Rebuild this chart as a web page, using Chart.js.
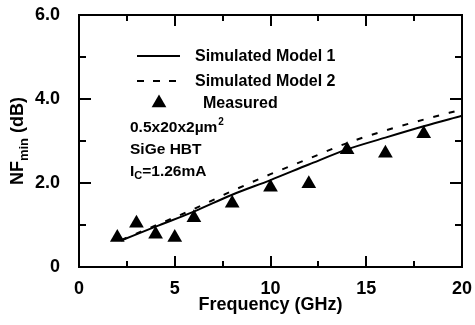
<!DOCTYPE html>
<html lang="en">
<head>
    <meta charset="UTF-8">
    <title>NFmin vs Frequency</title>
    <script src="https://cdn.jsdelivr.net/npm/chart.js@4.4.1/dist/chart.umd.min.js"></script>
    <style>
        html, body { margin: 0; padding: 0; background: #fff; }
    </style>
</head>
<body>
    <canvas id="myChart" width="475" height="325"></canvas>

    <script>
        // Measured points (GHz, dB)
        const measuredFreq = [2, 3, 4, 5, 6, 8, 10, 12, 14, 16, 18];
        const measuredNF = [0.70, 1.04, 0.78, 0.70, 1.17, 1.52, 1.90, 1.98, 2.79, 2.71, 3.17];

        // Simulated curves
        const simFreq = [2.2, 4, 6, 8, 10, 12, 14, 16, 18, 20];
        const model1NF = [0.63, 0.96, 1.32, 1.72, 2.07, 2.44, 2.80, 3.08, 3.35, 3.60];
        const model2NF = [0.64, 0.99, 1.38, 1.81, 2.21, 2.58, 2.95, 3.25, 3.51, 3.75];

        const xTicks = [0, 5, 10, 15, 20];
        const yTicks = ['0', '2.0', '4.0', '6.0'];

        const FONT = '"Liberation Sans", Arial, Helvetica, sans-serif';

        function pts(xs, ys) {
            return xs.map((v, i) => ({ x: v, y: ys[i] }));
        }

        function noPad(s) {
            s.paddingTop = 0; s.paddingBottom = 0; s.paddingLeft = 0; s.paddingRight = 0;
        }

        // inward ticks on all four sides
        const frame = {
            id: 'frame',
            afterDraw(chart) {
                const ctx = chart.ctx;
                const sx = chart.scales.x, sy = chart.scales.y;
                const L = Math.round(sx.left), R = Math.round(sx.right);
                const T = Math.round(sy.top), B = Math.round(sy.bottom);
                ctx.save();
                ctx.fillStyle = '#000';
                ctx.fillRect(L - 1, T - 1, R - L + 2, 2);
                ctx.fillRect(L - 1, B - 1, R - L + 2, 2);
                ctx.fillRect(L - 1, T - 1, 2, B - T + 2);
                ctx.fillRect(R - 1, T - 1, 2, B - T + 2);
                for (let v = 0; v <= 20; v += 2.5) {
                    const px = Math.round(sx.getPixelForValue(v));
                    const len = v % 5 === 0 ? 11 : 6;
                    ctx.fillRect(px - 1, B - len, 2, len);
                    ctx.fillRect(px - 1, T, 2, len);
                }
                for (let v = 0; v <= 6; v++) {
                    const py = Math.round(sy.getPixelForValue(v));
                    const len = v % 2 === 0 ? 12 : 7;
                    ctx.fillRect(L, py - 1, len, 2);
                    ctx.fillRect(R - len, py - 1, len, 2);
                }
                ctx.restore();
            }
        };

        // legend, notes and axis titles
        const decor = {
            id: 'decor',
            afterDraw(chart) {
                const ctx = chart.ctx;
                const a = chart.chartArea;
                ctx.save();
                ctx.fillStyle = '#000';

                // legend samples
                ctx.fillRect(137, 55, 43, 2);
                [137, 153, 169].forEach(d => ctx.fillRect(d, 80, 7, 2));
                const tr = 8.5;
                ctx.beginPath();
                ctx.moveTo(159, 103 - tr);
                ctx.lineTo(159 + tr * 0.866, 103 + tr / 2);
                ctx.lineTo(159 - tr * 0.866, 103 + tr / 2);
                ctx.closePath();
                ctx.fill();

                ctx.textBaseline = 'middle';
                ctx.textAlign = 'left';
                ctx.font = 'bold 16px ' + FONT;
                ctx.fillText('Simulated Model 1', 195, 57);
                ctx.fillText('Simulated Model 2', 195, 82);
                ctx.fillText('Measured', 203, 104);

                // device notes
                ctx.font = 'bold 15.5px ' + FONT;
                let w = ctx.measureText('0.5x20x2\u00b5m').width;
                ctx.fillText('0.5x20x2\u00b5m', 130, 128);
                ctx.font = 'bold 10px ' + FONT;
                ctx.fillText('2', 130 + w + 1, 122);
                ctx.font = 'bold 15.5px ' + FONT;
                ctx.fillText('SiGe HBT', 130, 150);
                ctx.fillText('I', 130, 172);
                w = ctx.measureText('I').width;
                ctx.font = 'bold 11px ' + FONT;
                ctx.fillText('C', 130 + w, 176);
                const wc = ctx.measureText('C').width;
                ctx.font = 'bold 15.5px ' + FONT;
                ctx.fillText('=1.26mA', 130 + w + wc, 172);

                // x title
                ctx.textAlign = 'center';
                ctx.textBaseline = 'alphabetic';
                ctx.font = 'bold 18px ' + FONT;
                ctx.fillText('Frequency (GHz)', (a.left + a.right) / 2, 310);

                // y title with subscript
                ctx.translate(23, (a.top + a.bottom) / 2);
                ctx.rotate(-Math.PI / 2);
                ctx.textAlign = 'left';
                const big = 'bold 18px ' + FONT, small = 'bold 13px ' + FONT;
                ctx.font = big; const w1 = ctx.measureText('NF').width;
                const w3 = ctx.measureText(' (dB)').width;
                ctx.font = small; const w2 = ctx.measureText('min').width;
                const ox = -(w1 + w2 + w3) / 2;
                ctx.font = big; ctx.fillText('NF', ox, 0);
                ctx.font = small; ctx.fillText('min', ox + w1, 5);
                ctx.font = big; ctx.fillText(' (dB)', ox + w1 + w2, 0);
                ctx.restore();
            }
        };

        const edge = { display: true, color: '#000', width: 2 };

        window.onload = function() {
            const ctx = document.getElementById('myChart').getContext('2d');
            new Chart(ctx, {
                type: 'line',
                data: {
                    datasets: [
                        {
                            label: 'Simulated Model 1',
                            data: pts(simFreq, model1NF),
                            borderColor: '#000',
                            borderWidth: 2,
                            pointRadius: 0,
                            cubicInterpolationMode: 'monotone',
                            fill: false
                        },
                        {
                            label: 'Simulated Model 2',
                            data: pts(simFreq, model2NF),
                            borderColor: '#000',
                            borderWidth: 2,
                            borderDash: [6, 10],
                            pointRadius: 0,
                            cubicInterpolationMode: 'monotone',
                            fill: false
                        },
                        {
                            label: 'Measured',
                            data: pts(measuredFreq, measuredNF),
                            showLine: false,
                            pointStyle: 'triangle',
                            pointRadius: 8.5,
                            pointBackgroundColor: '#000',
                            pointBorderColor: '#000',
                            pointBorderWidth: 0
                        }
                    ]
                },
                options: {
                    responsive: false,
                    animation: false,
                    layout: { padding: { left: 0, top: 15, right: 13, bottom: 0 } },
                    plugins: { legend: { display: false }, tooltip: { enabled: false } },
                    scales: {
                        x: {
                            type: 'linear',
                            min: 0,
                            max: 20,
                            grid: { display: false },
                            border: edge,
                            afterFit: s => { s.height = 58; noPad(s); },
                            afterBuildTicks: s => { s.ticks = xTicks.map(v => ({ value: v })); },
                            ticks: {
                                color: '#000',
                                padding: 3,
                                font: { family: FONT, size: 18, weight: 'bold' },
                                callback: v => String(v)
                            }
                        },
                        y: {
                            min: 0,
                            max: 6,
                            grid: { display: false },
                            border: edge,
                            afterFit: s => { s.width = 79; noPad(s); },
                            afterBuildTicks: s => { s.ticks = yTicks.map(t => ({ value: parseFloat(t) })); },
                            ticks: {
                                color: '#000',
                                padding: 11,
                                font: { family: FONT, size: 18, weight: 'bold' },
                                callback: (v, i) => yTicks[i]
                            }
                        },
                        xTop: {
                            type: 'linear',
                            position: 'top',
                            min: 0,
                            max: 20,
                            grid: { display: false },
                            border: edge,
                            ticks: { display: false },
                            afterFit: s => { s.height = 0; noPad(s); }
                        },
                        yRight: {
                            position: 'right',
                            min: 0,
                            max: 6,
                            grid: { display: false },
                            border: edge,
                            ticks: { display: false },
                            afterFit: s => { s.width = 0; noPad(s); }
                        }
                    }
                },
                plugins: [frame, decor]
            });
        };
    </script>
</body>
</html>
